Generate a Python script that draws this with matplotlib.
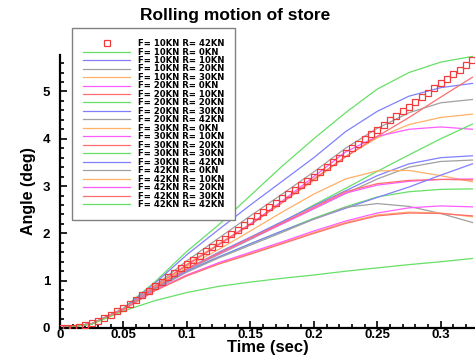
import numpy as np
import matplotlib
matplotlib.use('Agg')
import matplotlib.pyplot as plt
from matplotlib.ticker import MultipleLocator

plt.rcParams['font.family'] = ['Liberation Sans', 'DejaVu Sans']
plt.rcParams['font.weight'] = 'bold'

# time grid of the line series (sec)
t_line = [0, 0.025, 0.05, 0.075, 0.1, 0.125, 0.15, 0.175, 0.2, 0.225, 0.25, 0.275, 0.3, 0.325]
# time grid of the marker series
t_mark = np.round(np.arange(0, 0.3251, 0.005), 3)

# F=10KN R=42KN, drawn with open squares
f10_r42 = [0.00, 0.00, 0.01, 0.03, 0.06, 0.10, 0.15, 0.21, 0.28, 0.35,
           0.42, 0.51, 0.60, 0.69, 0.79, 0.88, 0.97, 1.07, 1.16, 1.26,
           1.35, 1.44, 1.53, 1.62, 1.71, 1.80, 1.89, 1.99, 2.08, 2.18,
           2.27, 2.36, 2.46, 2.55, 2.65, 2.74, 2.83, 2.92, 3.02, 3.11,
           3.20, 3.30, 3.40, 3.50, 3.60, 3.70, 3.80, 3.89, 3.99, 4.09,
           4.19, 4.29, 4.39, 4.48, 4.58, 4.68, 4.78, 4.88, 4.97, 5.07,
           5.17, 5.27, 5.37, 5.46, 5.56, 5.66]

f10_r0 = [0, 0.09, 0.42, 0.98, 1.62, 2.18, 2.80, 3.42, 4.00, 4.55, 5.05, 5.40, 5.62, 5.74]
f10_r10 = [0, 0.09, 0.41, 0.95, 1.55, 2.08, 2.60, 3.10, 3.60, 4.15, 4.58, 4.90, 5.08, 5.17]
f10_r20 = [0, 0.09, 0.40, 0.90, 1.42, 1.90, 2.37, 2.83, 3.30, 3.80, 4.22, 4.55, 4.76, 4.83]
f10_r30 = [0, 0.09, 0.40, 0.88, 1.35, 1.78, 2.20, 2.65, 3.12, 3.62, 4.02, 4.30, 4.45, 4.52]
f20_r0 = [0, 0.09, 0.40, 0.88, 1.33, 1.76, 2.20, 2.68, 3.20, 3.72, 4.05, 4.20, 4.25, 4.20]
f20_r10 = [0, 0.09, 0.40, 0.88, 1.33, 1.76, 2.18, 2.65, 3.15, 3.62, 4.05, 4.45, 4.88, 5.30]
f20_r20 = [0, 0.09, 0.40, 0.85, 1.25, 1.58, 1.90, 2.24, 2.60, 2.95, 3.31, 3.66, 4.00, 4.31]
f20_r30 = [0, 0.09, 0.40, 0.85, 1.25, 1.60, 1.92, 2.25, 2.58, 2.90, 3.22, 3.47, 3.60, 3.64]
f20_r42 = [0, 0.09, 0.40, 0.84, 1.22, 1.55, 1.87, 2.20, 2.52, 2.84, 3.15, 3.40, 3.52, 3.55]
f30_r0 = [0, 0.09, 0.40, 0.86, 1.30, 1.66, 2.05, 2.45, 2.83, 3.15, 3.32, 3.33, 3.22, 3.09]
f30_r10 = [0, 0.09, 0.40, 0.85, 1.24, 1.57, 1.89, 2.20, 2.52, 2.85, 3.02, 3.10, 3.14, 3.15]
f30_r20 = [0, 0.09, 0.40, 0.85, 1.25, 1.58, 1.90, 2.22, 2.55, 2.88, 3.05, 3.12, 3.14, 3.13]
f30_r30 = [0, 0.09, 0.40, 0.83, 1.20, 1.50, 1.78, 2.05, 2.32, 2.56, 2.77, 2.88, 2.93, 2.94]
f30_r42 = [0, 0.09, 0.40, 0.83, 1.20, 1.50, 1.78, 2.05, 2.30, 2.53, 2.76, 2.98, 3.23, 3.47]
f42_r0 = [0, 0.09, 0.40, 0.82, 1.18, 1.48, 1.75, 2.02, 2.30, 2.55, 2.63, 2.57, 2.42, 2.23]
f42_r10 = [0, 0.09, 0.39, 0.80, 1.12, 1.37, 1.58, 1.80, 2.02, 2.23, 2.39, 2.45, 2.43, 2.35]
f42_r20 = [0, 0.09, 0.39, 0.80, 1.12, 1.38, 1.60, 1.82, 2.05, 2.26, 2.43, 2.54, 2.58, 2.56]
f42_r30 = [0, 0.09, 0.39, 0.79, 1.10, 1.35, 1.56, 1.78, 2.00, 2.21, 2.37, 2.43, 2.42, 2.37]
f42_r42 = [0, 0.08, 0.36, 0.58, 0.75, 0.88, 0.97, 1.05, 1.12, 1.20, 1.27, 1.34, 1.40, 1.47]

green, blue, gray = '#66e066', '#8080ff', '#a0a0a0'
orange, magenta, red = '#ffb066', '#ff5cff', '#ff6e6e'

lines = [
    ('F= 10KN R= 0KN', f10_r0, green),
    ('F= 10KN R= 10KN', f10_r10, blue),
    ('F= 10KN R= 20KN', f10_r20, gray),
    ('F= 10KN R= 30KN', f10_r30, orange),
    ('F= 20KN R= 0KN', f20_r0, magenta),
    ('F= 20KN R= 10KN', f20_r10, red),
    ('F= 20KN R= 20KN', f20_r20, green),
    ('F= 20KN R= 30KN', f20_r30, blue),
    ('F= 20KN R= 42KN', f20_r42, gray),
    ('F= 30KN R= 0KN', f30_r0, orange),
    ('F= 30KN R= 10KN', f30_r10, magenta),
    ('F= 30KN R= 20KN', f30_r20, red),
    ('F= 30KN R= 30KN', f30_r30, green),
    ('F= 30KN R= 42KN', f30_r42, blue),
    ('F= 42KN R= 0KN', f42_r0, gray),
    ('F= 42KN R= 10KN', f42_r10, orange),
    ('F= 42KN R= 20KN', f42_r20, magenta),
    ('F= 42KN R= 30KN', f42_r30, red),
    ('F= 42KN R= 42KN', f42_r42, green),
]

fig = plt.figure(figsize=(4.75, 3.59), dpi=100)
ax = fig.add_axes([60/475, 1-328/359, 1-60/475, (328-55)/359])

ax.plot(t_mark, f10_r42, ls='none', marker='s', ms=5, mfc='none',
        mec='#f03c3c', mew=0.9, label='F= 10KN R= 42KN', zorder=3)
for lab, vals, col in lines:
    ax.plot(t_line, vals, color=col, lw=0.9, label=lab)

ax.set_xlim(0, 0.327)
ax.set_ylim(0, 5.77)
ax.xaxis.set_minor_locator(MultipleLocator(0.01))
ax.yaxis.set_major_locator(MultipleLocator(1))
ax.yaxis.set_minor_locator(MultipleLocator(0.2))
ax.set_xticks([0, 0.05, 0.1, 0.15, 0.2, 0.25, 0.3])
ax.set_xticklabels(['0', '0.05', '0.1', '0.15', '0.2', '0.25', '0.3'])
ax.tick_params(which='both', direction='in', width=1.2, labelsize=9.5)
ax.tick_params(which='major', length=5)
ax.tick_params(which='minor', length=3)
ax.tick_params(axis='x', pad=1)
ax.tick_params(axis='y', pad=7)
for s in ['top', 'right']:
    ax.spines[s].set_visible(False)
for s in ['left', 'bottom']:
    ax.spines[s].set_linewidth(1.6)

ax.set_xlabel('Time (sec)', fontsize=12, fontweight='bold', labelpad=-1)
ax.set_ylabel('Angle (deg)', fontsize=11.5, fontweight='bold', labelpad=5)
fig.text(0.496, 0.957, 'Rolling motion of store', ha='center', va='center',
         fontsize=12.5, fontweight='bold')

leg = ax.legend(loc='upper left', bbox_to_anchor=(72/475, 1-28/359),
                bbox_transform=fig.transFigure, numpoints=1,
                prop={'family': 'DejaVu Sans', 'weight': 'bold', 'size': 6.1},
                handlelength=5.6, handletextpad=0.85, labelspacing=-0.06,
                borderpad=1.3, borderaxespad=0, fancybox=False,
                framealpha=1, edgecolor='#808080')
leg.get_frame().set_linewidth(1.0)

fig.savefig('out.png', dpi=100)
